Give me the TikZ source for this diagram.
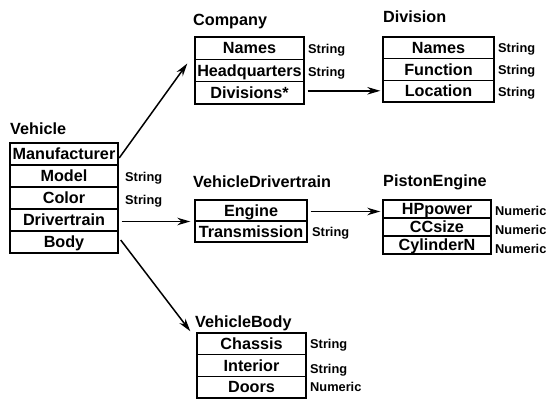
\documentclass[tikz,border=0pt]{standalone}
\usepackage{fontspec}
\setmainfont{Liberation Sans}
\usetikzlibrary{arrows.meta}
\newcommand\rowfnt{\fontsize{16.2}{17}\selectfont\bfseries}
\newcommand\labfnt{\fontsize{12.8}{14}\selectfont\bfseries}
\begin{document}
\begin{tikzpicture}[x=1pt,y=-1pt,
  row/.style={draw, line width=1.4pt, inner sep=0pt, font=\rowfnt, text height=11.5pt, text depth=0pt, anchor=center},
  ttl/.style={inner sep=0pt, font=\rowfnt, anchor=base west},
  lab/.style={inner sep=0pt, font=\labfnt, text height=9.2pt, text depth=0pt, anchor=west},
  conn/.style={line width=1.5pt, -{Stealth[length=13pt,width=7.5pt]}}]
\useasboundingbox (0,0) rectangle (552,401);
% Vehicle
\node[ttl] (vt) at (10,135) {Vehicle};
\begin{scope}[row/.append style={minimum width=108pt, minimum height=22pt}]
\node[row] (v1) at (64,154) {Manufacturer};
\node[row] (v2) at (64,176) {Model};
\node[row] (v3) at (64,198) {Color};
\node[row] (v4) at (64,220) {Drivertrain};
\node[row] (v5) at (64,242) {Body};
\end{scope}
\node[lab] (vl2) at (125,177) {String};
\node[lab] (vl3) at (125,200) {String};
% Company
\node[ttl] (ct) at (193,26) {Company};
\begin{scope}[row/.append style={minimum width=109pt, minimum height=22.3pt}]
\node[row] (c1) at (249.5,48.2) {Names};
\node[row] (c2) at (249.5,70.5) {Headquarters};
\node[row] (c3) at (249.5,92.8) {Divisions*};
\end{scope}
\node[lab] (cl1) at (308,48.5) {String};
\node[lab] (cl2) at (308,71.5) {String};
% Division
\node[ttl] (dt) at (383,23) {Division};
\begin{scope}[row/.append style={minimum width=111pt, minimum height=21.7pt}]
\node[row] (d1) at (438.5,47.8) {Names};
\node[row] (d2) at (438.5,69.5) {Function};
\node[row] (d3) at (438.5,91.2) {Location};
\end{scope}
\node[lab] (dl1) at (498,48) {String};
\node[lab] (dl2) at (498,70) {String};
\node[lab] (dl3) at (498,92) {String};
% VehicleDrivertrain
\node[ttl] (vdt) at (193,188) {VehicleDrivertrain};
\begin{scope}[row/.append style={minimum width=112pt, minimum height=21pt}]
\node[row] (vd1) at (251,210.5) {Engine};
\node[row] (vd2) at (251,231.5) {Transmission};
\end{scope}
\node[lab] (vdl2) at (312,232) {String};
% PistonEngine
\node[ttl] (pt) at (383,186) {PistonEngine};
\begin{scope}[row/.append style={minimum width=108pt, minimum height=18pt}]
\node[row] (p1) at (437,209) {HPpower};
\node[row] (p2) at (437,227) {CCsize};
\node[row] (p3) at (437,245) {CylinderN};
\end{scope}
\node[lab] (pl1) at (495,211) {Numeric};
\node[lab] (pl2) at (495,230) {Numeric};
\node[lab] (pl3) at (495,249) {Numeric};
% VehicleBody
\node[ttl] (bt) at (195,327) {VehicleBody};
\begin{scope}[row/.append style={minimum width=109pt, minimum height=21.7pt}]
\node[row] (b1) at (251.5,343.8) {Chassis};
\node[row] (b2) at (251.5,365.5) {Interior};
\node[row] (b3) at (251.5,387.2) {Doors};
\end{scope}
\node[lab] (bl1) at (310,344) {String};
\node[lab] (bl2) at (310,369) {String};
\node[lab] (bl3) at (310,387) {Numeric};
% connectors
\draw[conn] ([xshift=0.5pt,yshift=-4pt]v1.east) -- ([xshift=-7pt,yshift=7pt]c2.west);
\draw[conn] ([xshift=3pt,yshift=-1.5pt]v4.east) -- ([xshift=-4pt,yshift=-1.5pt]v4.east -| vd1.west);
\draw[conn] ([xshift=2pt,yshift=2pt]v5.east) -- ([xshift=-6pt,yshift=1pt]b1.north west);
\draw[conn] ([xshift=3pt,yshift=2pt]c3.east) -- ([xshift=-2pt,yshift=2pt]c3.east -| d3.west);
\draw[conn] ([xshift=3pt,yshift=-1pt]vd1.east) -- ([xshift=-2pt,yshift=-1pt]vd1.east -| p1.west);
\end{tikzpicture}
\end{document}
